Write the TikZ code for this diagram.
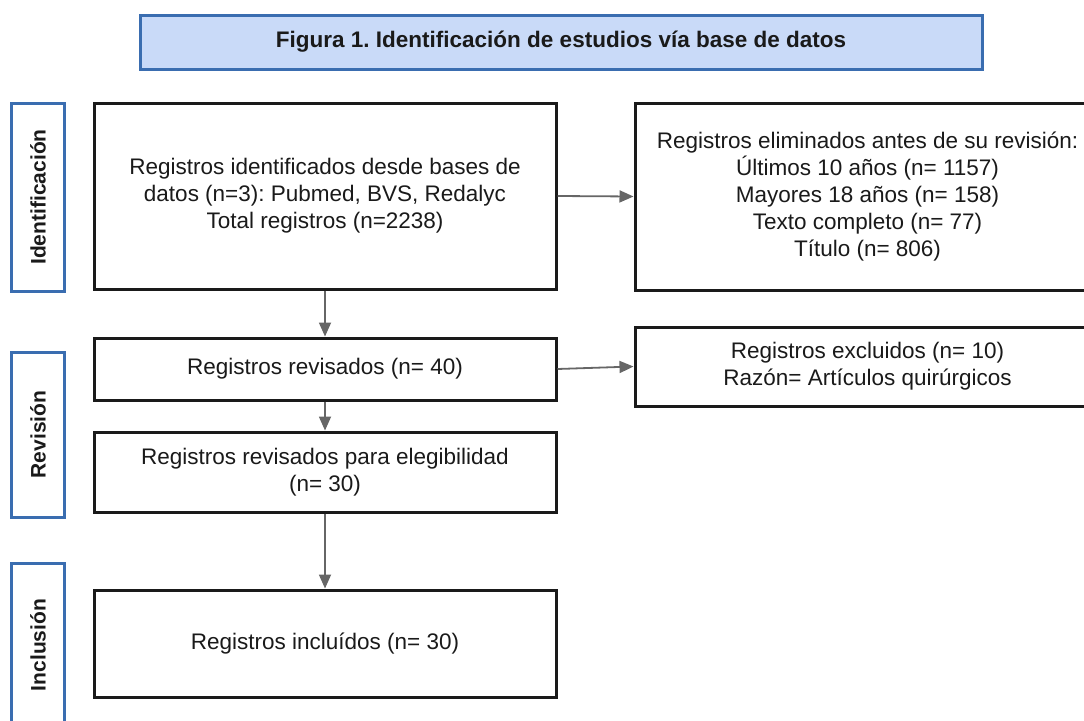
\documentclass[tikz,border=0pt]{standalone}
\usepackage{fontspec}
\setmainfont{Liberation Sans}
\usetikzlibrary{arrows.meta}
\frenchspacing
\definecolor{titlefill}{HTML}{C9DAF8}
\definecolor{titledraw}{HTML}{3A6DB0}
\definecolor{labdraw}{HTML}{3A6DB0}
\definecolor{boxdraw}{HTML}{1A1A1A}
\definecolor{arrgray}{HTML}{666666}
\definecolor{txt}{HTML}{1A1A1A}
\tikzset{
  titlebox/.style={draw=titledraw, fill=titlefill, line width=3pt, inner sep=0pt,
    font=\fontsize{22.5}{26}\selectfont\bfseries, text=txt},
  labbox/.style={draw=labdraw, fill=white, line width=3pt, inner sep=0pt, rotate=90,
    font=\fontsize{21}{24}\selectfont\bfseries, text=txt},
  flowbox/.style={draw=boxdraw, fill=white, line width=3pt, inner sep=0pt, align=center,
    font=\fontsize{22.5}{27}\selectfont, text=txt},
  arr/.style={draw=arrgray, line width=1.8pt, -{Triangle[length=14pt,width=12pt]}, arrgray}
}
\begin{document}
\begin{tikzpicture}[x=1pt,y=-1pt]
\useasboundingbox (0,0) rectangle (1084,720);
\node[titlebox, minimum width=842pt, minimum height=54pt] (title) at (561,42)
  {Figura 1. Identificación de estudios vía base de datos};
\node[labbox, minimum width=188pt, minimum height=53pt] (lab1) at (38,197) {Identificación};
\node[labbox, minimum width=165pt, minimum height=53pt] (lab2) at (38,434.5) {Revisión};
\node[labbox, minimum width=164pt, minimum height=53pt] (lab3) at (38,645) {Inclusión};
\node[flowbox, minimum width=462pt, minimum height=186pt] (b1) at (325,196)
  {Registros identificados desde bases de\\datos (n=3): Pubmed, BVS, Redalyc\\Total registros (n=2238)};
\node[flowbox, minimum width=465pt, minimum height=187pt] (b2) at (867.5,196.5)
  {Registros eliminados antes de su revisión:\\Últimos 10 años (n= 1157)\\Mayores 18 años (n= 158)\\Texto completo (n= 77)\\Título (n= 806)};
\node[flowbox, minimum width=462pt, minimum height=62pt] (b3) at (325,369)
  {Registros revisados (n= 40)};
\node[flowbox, minimum width=465pt, minimum height=79pt] (b4) at (867.5,366.5)
  {Registros excluidos (n= 10)\\Razón= Artículos quirúrgicos};
\node[flowbox, minimum width=462pt, minimum height=80pt] (b5) at (325,472)
  {Registros revisados para elegibilidad\\(n= 30)};
\node[flowbox, minimum width=462pt, minimum height=107pt] (b6) at (325,643.5)
  {Registros incluídos (n= 30)};
\draw[arr] (b1.east) -- (b2.west);
\draw[arr] (b3.east) -- (b4.west);
\draw[arr] (b1.south) -- (b3.north);
\draw[arr] (b3.south) -- (b5.north);
\draw[arr] (b5.south) -- (b6.north);
\end{tikzpicture}
\end{document}
